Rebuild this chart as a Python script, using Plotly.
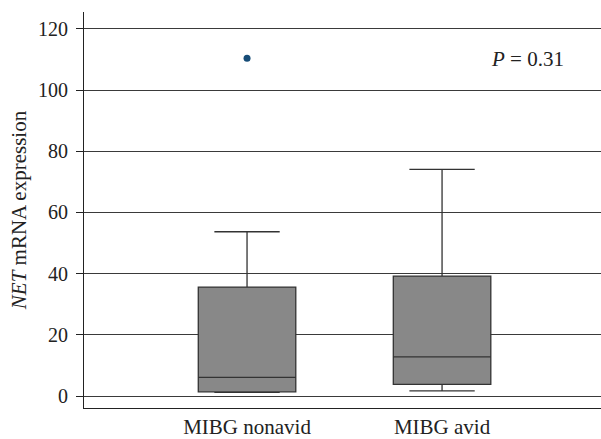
import plotly.graph_objects as go

categories = ["MIBG nonavid", "MIBG avid"]
lower_whisker = [1.2, 1.7]
q1_values = [1.4, 3.8]
median_values = [6.1, 12.8]
q3_values = [35.6, 39.2]
upper_whisker = [53.7, 74.1]
outlier_cat = ["MIBG nonavid"]
outlier_vals = [110.4]
y_ticks = [0, 20, 40, 60, 80, 100, 120]
p_text = "<i>P</i> = 0.31"

font_family = "Liberation Serif, DejaVu Serif, serif"

fig = go.Figure()
fig.add_trace(go.Box(
    x=categories,
    q1=q1_values,
    median=median_values,
    q3=q3_values,
    lowerfence=lower_whisker,
    upperfence=upper_whisker,
    fillcolor="#888888",
    line=dict(color="#333333", width=1.3),
    width=0.5,
    whiskerwidth=0.67,
    boxpoints=False,
    showlegend=False,
    hoverinfo="skip",
))
fig.add_trace(go.Scatter(
    x=outlier_cat, y=outlier_vals, mode="markers",
    marker=dict(color="#164c77", size=7),
    showlegend=False,
))

fig.add_annotation(
    x=1, y=110, xref="paper", yref="y", xanchor="right",
    xshift=-35, text=p_text, showarrow=False,
    font=dict(family=font_family, size=21, color="#222222"),
)

fig.update_layout(
    width=601, height=439,
    margin=dict(l=84, r=0, t=12, b=31),
    paper_bgcolor="white", plot_bgcolor="white",
    font=dict(family=font_family, size=20, color="#222222"),
)
fig.update_xaxes(
    type="category", range=[-0.836, 1.815],
    showline=True, linecolor="#222222", linewidth=1.2,
    showgrid=False, ticks="",
    tickfont=dict(family=font_family, size=21),
)
fig.update_yaxes(
    range=[-3.9, 125.5], tickvals=y_ticks,
    showline=True, linecolor="#222222", linewidth=1.2,
    showgrid=True, gridcolor="#3a3a3a", gridwidth=1,
    zeroline=False,
    ticks="outside", ticklen=7, tickcolor="#222222",
    ticklabelstandoff=4,
    tickfont=dict(family=font_family, size=20),
    title=dict(text="<i>NET</i> mRNA expression", standoff=5,
               font=dict(family=font_family, size=21)),
)

fig.write_html("out.html", config={"displayModeBar": False},
               post_script="document.body.style.margin='0';")
